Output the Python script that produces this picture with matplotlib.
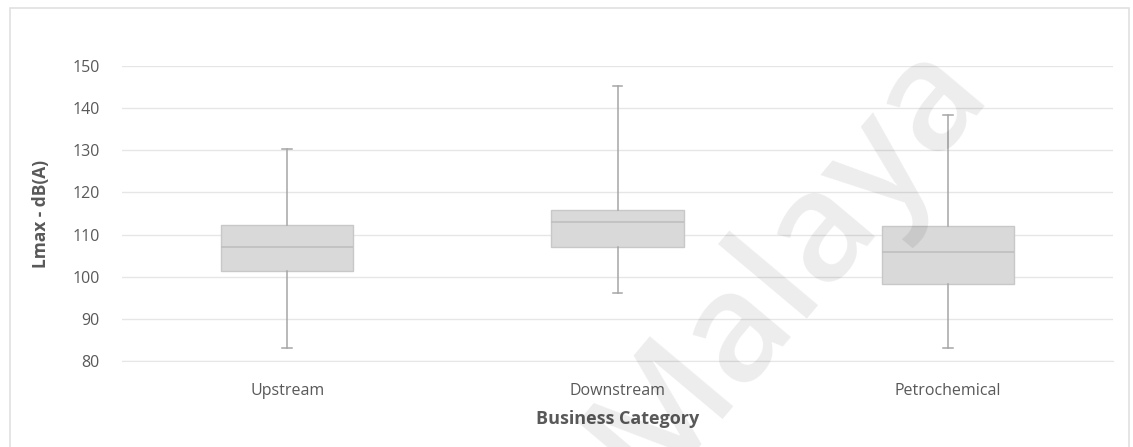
from matplotlib import pyplot as plt
from matplotlib.patches import Rectangle

categories = ["Upstream", "Downstream", "Petrochemical"]
whisker_low = [83.0, 96.1, 83.2]
box_q1 = [101.4, 107.0, 98.2]
box_median = [107.0, 112.9, 105.9]
box_q3 = [112.3, 115.8, 112.1]
whisker_high = [130.4, 145.3, 138.3]
yticks = [80, 90, 100, 110, 120, 130, 140, 150]

plt.rcParams['font.family'] = ['Open Sans', 'DejaVu Sans']

fig = plt.figure(figsize=(11.33, 4.47), dpi=100)
ax = fig.add_axes([122 / 1133, 1 - 361 / 447, (1113 - 122) / 1133, (361 - 66) / 447])

stats = []
for i, name in enumerate(categories):
    stats.append({
        "label": name,
        "whislo": whisker_low[i],
        "q1": box_q1[i],
        "med": box_median[i],
        "q3": box_q3[i],
        "whishi": whisker_high[i],
        "fliers": [],
    })

ax.bxp(stats, positions=[0, 1, 2], widths=0.4, patch_artist=True,
       showfliers=False,
       boxprops=dict(facecolor="#d9d9d9", edgecolor="#c8c8c8", linewidth=1),
       medianprops=dict(color="#bfbfbf", linewidth=1.2),
       whiskerprops=dict(color="#a6a6a6", linewidth=1.1),
       capprops=dict(color="#a6a6a6", linewidth=1.1),
       capwidths=0.03)

ax.set_xlim(-0.5, 2.5)
ax.set_ylim(80, 150)
ax.set_yticks(yticks)
ax.set_xticks([0, 1, 2])
ax.set_xticklabels(categories)
ax.yaxis.grid(True, color="#e6e6e6", linewidth=1)
ax.set_axisbelow(True)
for s in ax.spines.values():
    s.set_visible(False)
ax.spines['bottom'].set_visible(True)
ax.spines['bottom'].set_color("#e6e6e6")
ax.tick_params(length=0, labelsize=11.5, colors="#595959", pad=16)
ax.tick_params(axis='x', pad=16)

ax.set_ylabel("Lmax - dB(A)", fontsize=12.5, fontweight="bold", color="#595959", labelpad=16)
ax.set_xlabel("Business Category", fontsize=13, fontweight="bold", color="#595959", labelpad=8)

# outer chart border
fig.patches.append(Rectangle((10 / 1133, -0.05), 1119 / 1133, 1 - 8 / 447 + 0.05,
                             transform=fig.transFigure, fill=False,
                             edgecolor="#e0e0e0", linewidth=1.2))

# watermark
fig.text(0.695, 0.41, "Malaya", fontsize=110, color="black", alpha=0.075,
         fontweight="semibold", rotation=50, ha="center", va="center", zorder=10)

plt.savefig("out.png", dpi=100)
